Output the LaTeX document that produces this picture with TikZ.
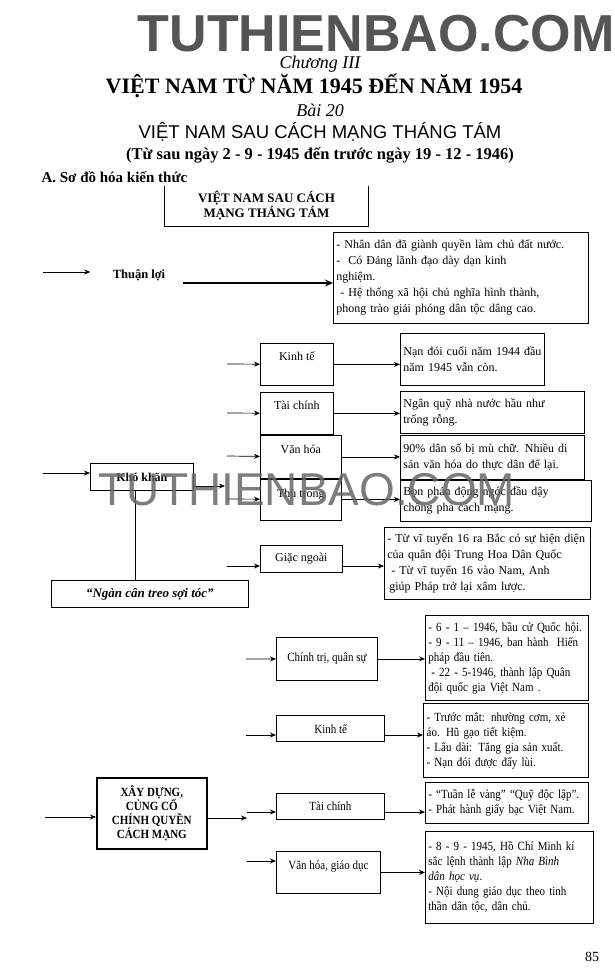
\documentclass[tikz,border=0pt]{standalone}
\usepackage{fontspec}
\setmainfont{Liberation Serif}
\setsansfont{Liberation Sans}
\newfontfamily\condfont[FakeStretch=0.88]{Liberation Serif}
\usetikzlibrary{positioning,arrows.meta}
\definecolor{wmGray}{HTML}{555555}

\begin{document}
\begin{tikzpicture}[x=1pt, y=-1pt,
    box/.style={draw, line width=0.8pt, anchor=north west, inner sep=3pt, align=left},
    txt/.style={font=\fontsize{12}{16}\selectfont},
    cond/.style={font=\condfont\fontsize{12.5}{15}\selectfont},
    arr/.style={-{Stealth[length=6pt,width=5pt]}, line width=0.7pt}]
  \useasboundingbox (0,0) rectangle (615,980);

  % header
  \node[font=\sffamily\bfseries\fontsize{52}{52}\selectfont, text=wmGray] (wm) at (376,34) {TUTHIENBAO.COM};
  \node[font=\itshape\fontsize{18}{18}\selectfont] (chuong) at (320,64) {Chương III};
  \node[font=\bfseries\fontsize{22}{22}\selectfont] (chtitle) at (314,86) {VIỆT NAM TỪ NĂM 1945 ĐẾN NĂM 1954};
  \node[font=\itshape\fontsize{18}{18}\selectfont] (bai) at (320,110) {Bài 20};
  \node[font=\sffamily\fontsize{18.5}{18.5}\selectfont] (baititle) at (320,132) {VIỆT NAM SAU CÁCH MẠNG THÁNG TÁM};
  \node[font=\bfseries\fontsize{16.5}{16.5}\selectfont] (thoigian) at (320,155) {(Từ sau ngày 2 - 9 - 1945 đến trước ngày 19 - 12 - 1946)};
  \node[font=\bfseries\fontsize{15}{15}\selectfont, anchor=west] (muc) at (38,177) {A. Sơ đồ hóa kiến thức};

  % root, open at the top
  \node[font=\bfseries\fontsize{13}{15}\selectfont, align=center, minimum width=203, minimum height=40] (goc) at (266.5,206) {VIỆT NAM SAU CÁCH\\MẠNG THÁNG TÁM};
  \draw[line width=0.8pt] (goc.north west) |- (goc.south east) -- (goc.north east);

  % thuan loi
  \coordinate (tl-in) at (43,272);
  \node[font=\bfseries\fontsize{12.5}{15}\selectfont] (tl) at (139,275) {Thuận lợi};
  \node[box, txt, text width=249pt, minimum height=91] (tlbox) at (333,232)
    {- Nhân dân đã giành quyền làm chủ đất nước.\\
     -\hspace{8pt}Có Đảng lãnh đạo dày dạn kinh\\
     nghiệm.\\
     \hspace*{4pt}- Hệ thống xã hội chủ nghĩa hình thành,\\
     phong trào giải phóng dân tộc dâng cao.};
  \coordinate (tl-out) at (183,283);
  \draw[arr, shorten >=19pt] (tl-in) -- (tl-in -| tl.west);
  \draw[-{Stealth[length=8pt,width=7pt]}, line width=2.2pt] (tl-out) -- (tl-out -| tlbox.west);

  % kho khan
  \node[box, font=\bfseries\fontsize{12}{14}\selectfont, align=center, minimum width=103, minimum height=27] (kk) at (90,463) {Khó khăn};
  \node[box, txt, minimum width=73, minimum height=42, text depth=16pt] (kt1) at (260,343) {Kinh tế};
  \node[box, txt, text width=138pt, minimum height=52] (ktd1) at (400,333) {Nạn đói cuối năm 1944 đầu\\năm 1945 vẫn còn.};
  \node[box, txt, minimum width=73, minimum height=42, text depth=16pt] (tc1) at (260,392) {Tài chính};
  \node[box, txt, text width=178pt, minimum height=42] (tcd1) at (400,391) {Ngân quỹ nhà nước hầu như\\trống rỗng.};
  \node[box, txt, minimum width=81, minimum height=43, text depth=16pt] (vh1) at (260,435) {Văn hóa};
  \node[box, txt, text width=178pt, minimum height=44] (vhd1) at (400,435) {90\% dân số bị mù chữ. Nhiều di\\sản văn hóa do thực dân để lại.};
  \node[box, txt, minimum width=81, minimum height=42, text depth=12pt] (tt1) at (260,478) {Thù trong};
  \node[box, txt, text width=185pt, minimum height=41] (ttd1) at (400,480) {Bọn phản động ngóc đầu dậy\\chống phá cách mạng.};
  \node[box, txt, minimum width=82, minimum height=27] (gn) at (260,545) {Giặc ngoài};
  \node[box, txt, text width=200pt, minimum height=72] (gnd) at (384,527)
    {- Từ vĩ tuyến 16 ra Bắc có sự hiện diện\\
     của quân đội Trung Hoa Dân Quốc\\
     \hspace*{4pt}- Từ vĩ tuyến 16 vào Nam, Anh\\
     \hspace*{2pt}giúp Pháp trở lại xâm lược.};
  \node[box, font=\bfseries\itshape\fontsize{13}{15}\selectfont, align=center, minimum width=197, minimum height=27] (ncts) at (51,580) {“Ngàn cân treo sợi tóc”};
  \draw[line width=2.2pt] (vh1.south west) -- (vh1.south east);
  \draw[line width=2pt] (vhd1.south west) -- (vhd1.south east);

  \coordinate (kk-in) at (43,473);
  \coordinate (kk-out) at (225,486);
  \coordinate (kt1-in) at (227,364);
  \coordinate (tc1-in) at (227,413);
  \coordinate (vh1-in) at (227,456);
  \coordinate (tt1-in) at (227,499);
  \coordinate (gn-in) at (227,566);
  \draw[arr] (kk-in) -- (kk-in -| kk.west);
  \draw[arr] (kk-out -| kk.east) -- (kk-out);
  \draw[line width=0.8pt] ([xshift=-7pt]kk.south) -- ([xshift=-7pt]kk.south |- ncts.north);
  \draw[arr] (kt1-in) -- (kt1);
  \draw[arr] (kt1) -- (kt1 -| ktd1.west);
  \draw[arr] (tc1-in) -- (tc1);
  \draw[arr] (tc1) -- (tc1 -| tcd1.west);
  \draw[arr] (vh1-in) -- (vh1);
  \draw[arr] (vh1) -- (vh1 -| vhd1.west);
  \draw[arr] (tt1-in) -- (tt1);
  \draw[arr] (tt1) -- (tt1 -| ttd1.west);
  \draw[arr] (gn-in) -- (gn-in -| gn.west);
  \draw[arr] (gn-in -| gn.east) -- (gn-in -| gnd.west);

  % xay dung, cung co chinh quyen
  \node[box, line width=1.6pt, font=\condfont\bfseries\fontsize{12.5}{14}\selectfont, align=center, minimum width=110, minimum height=71] (xd) at (96,777) {XÂY DỰNG,\\CỦNG CỐ\\CHÍNH QUYỀN\\CÁCH MẠNG};
  \node[box, cond, minimum width=101, minimum height=43] (ct) at (276,637) {Chính trị, quân sự};
  \node[box, cond, text width=157pt, minimum height=85] (ctd) at (425,615)
    {- 6 - 1 – 1946, bầu cử Quốc hội.\\
     - 9 - 11 – 1946, ban hành\ \ Hiến\\
     pháp đầu tiên.\\
     \hspace*{3pt}- 22 - 5-1946, thành lập Quân\\
     đội quốc gia Việt Nam .};
  \node[box, cond, line width=1.3pt, minimum width=108, minimum height=26] (kt2) at (276,715) {Kinh tế};
  \node[box, cond, line width=1.3pt, text width=159pt, minimum height=74] (ktd2) at (423,703)
    {- Trước mắt: nhường cơm, xẻ\\
     áo. Hũ gạo tiết kiệm.\\
     - Lâu dài: Tăng gia sản xuất.\\
     - Nạn đói được đẩy lùi.};
  \node[box, cond, minimum width=108, minimum height=26] (tc2) at (276,793) {Tài chính};
  \node[box, cond, text width=157pt, minimum height=41] (tcd2) at (425,782)
    {- “Tuần lễ vàng” “Quỹ độc lập”.\\
     - Phát hành giấy bạc Việt Nam.};
  \node[box, cond, minimum width=104, minimum height=42, text depth=14pt] (vh2) at (276,851) {Văn hóa, giáo dục};
  \node[box, cond, text width=162pt, minimum height=92] (vhd2) at (425,831)
    {- 8 - 9 - 1945, Hồ Chí Minh kí\\
     sắc lệnh thành lập \textit{Nha Bình}\\
     \textit{dân học vụ}.\\
     - Nội dung giáo dục theo tinh\\
     thần dân tộc, dân chủ.};

  \coordinate (xd-in) at (45,817);
  \coordinate (xd-out) at (247,818);
  \coordinate (ct-in) at (246,659);
  \coordinate (kt2-in) at (246,735);
  \coordinate (tc2-in) at (247,812);
  \coordinate (vh2-in) at (247,861);
  \draw[arr] (xd-in) -- (xd-in -| xd.west);
  \draw[arr] (xd-out -| xd.east) -- (xd-out);
  \draw[arr] (ct-in) -- (ct);
  \draw[arr] (ct) -- (ct -| ctd.west);
  \draw[arr] (kt2-in) -- (kt2-in -| kt2.west);
  \draw[arr] (kt2-in -| kt2.east) -- (kt2-in -| ktd2.west);
  \draw[arr] (tc2-in) -- (tc2-in -| tc2.west);
  \draw[arr] (tc2-in -| tc2.east) -- (tc2-in -| tcd2.west);
  \draw[arr] (vh2-in) -- (vh2-in -| vh2.west);
  \draw[arr] (vh2) -- (vh2 -| vhd2.west);

  \node[font=\fontsize{14}{14}\selectfont] (trang) at (592,957) {85};

  % watermark over the middle
  \node[font=\sffamily\fontsize{46}{46}\selectfont, text=black!60, opacity=0.85] (wm2) at (307,490) {TUTHIENBAO.COM};
\end{tikzpicture}
\end{document}
